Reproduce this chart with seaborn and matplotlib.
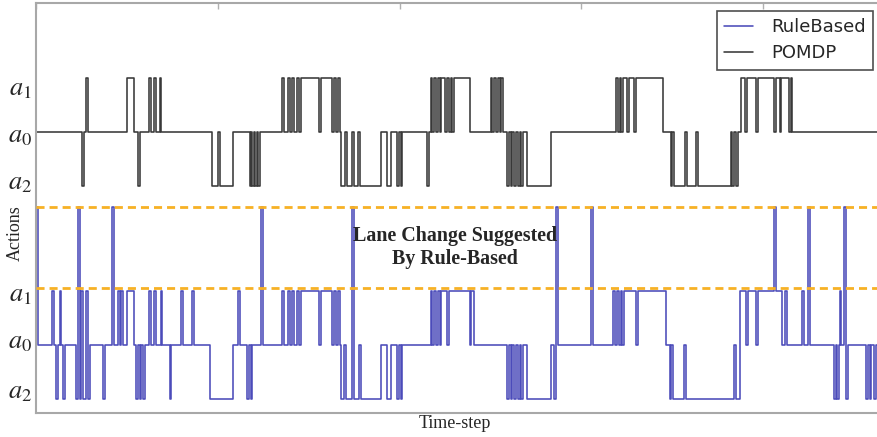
import numpy as np
import pandas as pd
import matplotlib
matplotlib.use('Agg')
import matplotlib.pyplot as plt
import seaborn as sns

# action codes as drawn on the y axis
# a0 = keep lane (0), a1 = 1, a2 = -1, lane change suggested = 2.55
LANE = 2.55

# RuleBased: time-step where the action changes, and the new action
rule_t = [0, 2, 18, 20, 22, 24, 26, 28, 30, 32,
          44, 46, 48, 50, 52, 55, 57, 59,
          74, 76, 84, 86, 90, 92, 94, 96, 100, 108,
          110, 112, 114, 116, 118, 120, 124, 126, 130, 132, 137, 139,
          147, 149, 160, 162, 172, 174, 191, 217, 222, 224,
          232, 234, 236, 238, 248, 250,
          271, 273, 277, 279, 282, 284, 287, 289, 291, 311, 313, 326, 328, 330, 332, 334,
          336, 339, 341, 348, 350, 355, 357, 380, 386, 391, 397, 399, 401, 403,
          434, 436, 438, 440, 442, 444, 446, 452, 454, 477, 479, 482,
          518, 520, 522, 524, 526, 528, 530, 532, 534, 536, 540, 566, 570, 572, 574,
          611, 613,
          635, 637, 639, 641, 643, 645, 647, 660, 662, 693,
          697, 699, 701, 713, 715, 768, 770, 774, 781, 783, 792, 794, 812, 814, 821, 824, 826,
          843, 845, 849, 851,
          878, 880, 881, 883, 884, 886, 889, 891, 893,
          913, 915, 917, 919, 922, 924, 930]
rule_a = [LANE, 0, 1, 0, -1, 0, 1, 0, -1, 0,
          -1, LANE, -1, 1, -1, 1, -1, 0,
          -1, 0, LANE, 0, 1, 0, 1, 0, 1, 0,
          -1, 0, -1, 0, -1, 0, 1, 0, 1, 0, 1, 0,
          -1, 0, 1, 0, 1, 0, -1, 0, 1, 0,
          -1, 0, -1, 0, LANE, 0,
          1, 0, 1, 0, 1, 0, 1, 0, 1, 0, 1, 0, 1, 0, 1, 0,
          -1, 0, -1, LANE, -1, 0, -1, 0, -1, 0, -1, 0, -1, 0,
          1, 0, 1, 0, 1, 0, 1, 0, 1, 0, 1, 0,
          -1, 0, -1, 0, -1, 0, -1, 0, -1, 0, -1, 0, -1, LANE, 0,
          LANE, 0,
          1, 0, 1, 0, 1, 0, 1, 0, 1, 0,
          -1, 0, -1, 0, -1, 0, -1, 1, 0, 1, 0, 1, LANE, 1, 0, 1, 0,
          1, 0, LANE, 0,
          -1, 0, -1, 0, 1, 0, LANE, -1, 0,
          -1, 0, -1, 0, -1, 0, 0]

# POMDP: same encoding
pomdp_t = [0, 51, 53, 55, 57,
           100, 108, 112, 114, 124, 126, 130, 132, 136, 138,
           194, 200, 202, 217,
           235, 237, 238, 240, 241, 243, 244, 246,
           271, 273, 277, 279, 282, 284, 287, 289, 291, 311, 313, 326, 328, 330, 332, 334,
           336, 340, 342, 348, 350, 354, 356, 380, 386, 391, 397, 399, 401, 403,
           430, 432, 434, 436, 438, 440, 442, 444, 446, 450, 452, 454, 456, 458, 460, 477,
           500, 502, 504, 506, 508, 510, 512, 514,
           518, 520, 522, 524, 526, 528, 530, 532, 534, 536, 540, 566,
           638, 640, 642, 644, 646, 650, 652, 658, 660, 690,
           698, 700, 702, 714, 716, 726, 728, 764, 766, 768, 770, 772,
           775, 780, 782, 792, 794, 812, 814, 818, 820, 828, 830, 832, 930]
pomdp_a = [0, -1, 0, 1, 0,
           1, 0, -1, 0, 1, 0, 1, 0, 1, 0,
           -1, 0, -1, 0,
           -1, 0, -1, 0, -1, 0, -1, 0,
           1, 0, 1, 0, 1, 0, 1, 0, 1, 0, 1, 0, 1, 0, 1, 0,
           -1, 0, -1, 0, -1, 0, -1, 0, -1, 0, -1, 0, -1, 0,
           -1, 0, 1, 0, 1, 0, 1, 0, 1, 0, 1, 0, 1, 0, 1, 0,
           1, 0, 1, 0, 1, 0, 1, 0,
           -1, 0, -1, 0, -1, 0, -1, 0, -1, 0, -1, 0,
           1, 0, 1, 0, 1, 0, 1, 0, 1, 0,
           -1, 0, -1, 0, -1, 0, -1, 0, -1, 0, -1, 0,
           1, 0, 1, 0, 1, 0, 1, 0, 1, 0, 1, 0, 0]

POMDP_SHIFT = 3.95  # POMDP is drawn above the RuleBased trace

# tick labels on the y axis (positions in the same units)
ylab_pos = [-0.80, 0.13, 1.0, 3.07, 3.94, 4.81]
ylab_txt = ['$a_2$', '$a_0$', '$a_1$', '$a_2$', '$a_0$', '$a_1$']
yminor_pos = [-0.26, 0.76, 1.78, 2.79, 3.81, 4.83, 5.84]
lane_lines = [1.05, 2.56]

sns.set_style('white')
plt.rcParams['font.family'] = ['DejaVu Sans']
plt.rcParams['mathtext.fontset'] = 'stix'

rule_df = pd.DataFrame({'t': rule_t, 'a': rule_a})
pomdp_df = pd.DataFrame({'t': pomdp_t, 'a': np.array(pomdp_a) + POMDP_SHIFT})

fig = plt.figure(figsize=(8.78, 4.37), dpi=100)
ax = fig.add_axes([36 / 878, 24 / 437, 845 / 878, 410 / 437])

sns.lineplot(data=rule_df, x='t', y='a', estimator=None, drawstyle='steps-post',
             color='#4b4bba', lw=1.15, label='RuleBased', ax=ax)
sns.lineplot(data=pomdp_df, x='t', y='a', estimator=None, drawstyle='steps-post',
             color='#383838', lw=1.15, label='POMDP', ax=ax)

for y in lane_lines:
    ax.axhline(y, color='#f7b125', lw=2, dashes=(2.9, 1.8), zorder=3)

ax.set_xlim(0, 929.5)
ax.set_ylim(-1.26, 6.33)

ax.set_xticks([0, 200, 400, 600, 800])
ax.set_xticklabels([])
ax.tick_params(axis='x', which='major', direction='in', length=4, top=True,
               color='#b0b0b0', width=1)
ax.set_yticks(ylab_pos)
ax.set_yticklabels(ylab_txt, fontsize=19)
ax.tick_params(axis='y', which='major', length=0, pad=3)
ax.set_yticks(yminor_pos, minor=True)
ax.tick_params(axis='y', which='minor', direction='in', length=4, color='#b0b0b0', width=1)

for s in ax.spines.values():
    s.set_color('#a8a8a8')
    s.set_linewidth(1.5)

ax.set_xlabel('Time-step', family='Liberation Serif', fontsize=13)
ax.xaxis.set_label_coords((455 - 36) / 845, (413 - 424) / 410)
ax.xaxis.label.set_va('center')
ax.set_ylabel('Actions', family='Liberation Serif', fontsize=13)
ax.yaxis.set_label_coords((15 - 36) / 845, (413 - 233) / 410)
ax.yaxis.label.set_va('center')

ax.text((455 - 36) / 845, (413 - 247.5) / 410, 'Lane Change Suggested\nBy Rule-Based',
        transform=ax.transAxes, ha='center', va='center', multialignment='center',
        family='Liberation Serif', fontweight='bold', fontsize=14.4, linespacing=1.25)

leg = ax.legend(loc='upper right', fontsize=13, fancybox=False, frameon=True,
                borderpad=0.4, labelspacing=0.45, handlelength=1.6, handletextpad=1.0,
                borderaxespad=0.45)
leg.get_frame().set_edgecolor('#222222')
leg.get_frame().set_linewidth(1.2)

fig.savefig('out.png', dpi=100)
